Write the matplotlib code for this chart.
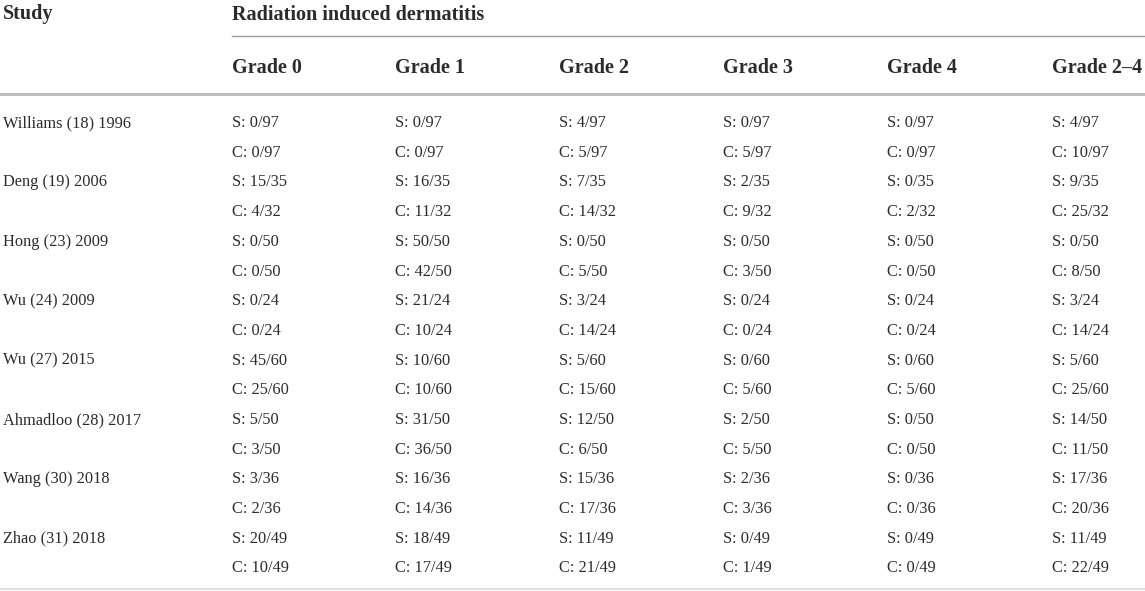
import matplotlib
matplotlib.use('Agg')
import matplotlib.pyplot as plt

studies = ["Williams (18) 1996", "Deng (19) 2006", "Hong (23) 2009", "Wu (24) 2009",
           "Wu (27) 2015", "Ahmadloo (28) 2017", "Wang (30) 2018", "Zhao (31) 2018"]
grades = ["Grade 0", "Grade 1", "Grade 2", "Grade 3", "Grade 4", "Grade 2\u20134"]
s_total = [97, 35, 50, 24, 60, 50, 36, 49]
c_total = [97, 32, 50, 24, 60, 50, 36, 49]
s_counts = [
    [0, 0, 4, 0, 0, 4],
    [15, 16, 7, 2, 0, 9],
    [0, 50, 0, 0, 0, 0],
    [0, 21, 3, 0, 0, 3],
    [45, 10, 5, 0, 0, 5],
    [5, 31, 12, 2, 0, 14],
    [3, 16, 15, 2, 0, 17],
    [20, 18, 11, 0, 0, 11],
]
c_counts = [
    [0, 0, 5, 5, 0, 10],
    [4, 11, 14, 9, 2, 25],
    [0, 42, 5, 3, 0, 8],
    [0, 10, 14, 0, 0, 14],
    [25, 10, 15, 5, 5, 25],
    [3, 36, 6, 5, 0, 11],
    [2, 14, 17, 3, 0, 20],
    [10, 17, 21, 1, 0, 22],
]

plt.rcParams['font.family'] = ['Liberation Serif', 'DejaVu Serif']
txt = '#2b2b2b'

fig = plt.figure(figsize=(11.45, 5.91), dpi=100)
ax = fig.add_axes([0, 0, 1, 1])
ax.set_xlim(0, 1145)
ax.set_ylim(591, 0)
ax.axis('off')

col_x = [232, 395, 559, 723, 887, 1052]
first_base = 127   # baseline of first body line
step = 29.7
head_fs = 14.5
body_fs = 11.8

# header
ax.text(3, 19.5, "Study", fontsize=head_fs, fontweight='bold', color=txt, va='baseline')
ax.text(col_x[0], 19.5, "Radiation induced dermatitis", fontsize=head_fs, fontweight='bold',
        color=txt, va='baseline')
ax.plot([col_x[0], 1145], [36, 36], color='#9a9a9a', lw=1.0)
for x, g in zip(col_x, grades):
    ax.text(x, 73, g, fontsize=head_fs, fontweight='bold', color=txt, va='baseline')
ax.plot([0, 1145], [94, 94], color='#bdbdbd', lw=2.2)

# body
for i, name in enumerate(studies):
    ys = first_base + 2 * i * step
    yc = ys + step
    ax.text(3, ys, name, fontsize=body_fs, color=txt, va='baseline')
    for j, x in enumerate(col_x):
        ax.text(x, ys, f"S: {s_counts[i][j]}/{s_total[i]}", fontsize=body_fs, color=txt, va='baseline')
        ax.text(x, yc, f"C: {c_counts[i][j]}/{c_total[i]}", fontsize=body_fs, color=txt, va='baseline')

ax.plot([0, 1145], [589, 589], color='#e0e0e0', lw=1.5)

fig.savefig('out.png', dpi=100)
